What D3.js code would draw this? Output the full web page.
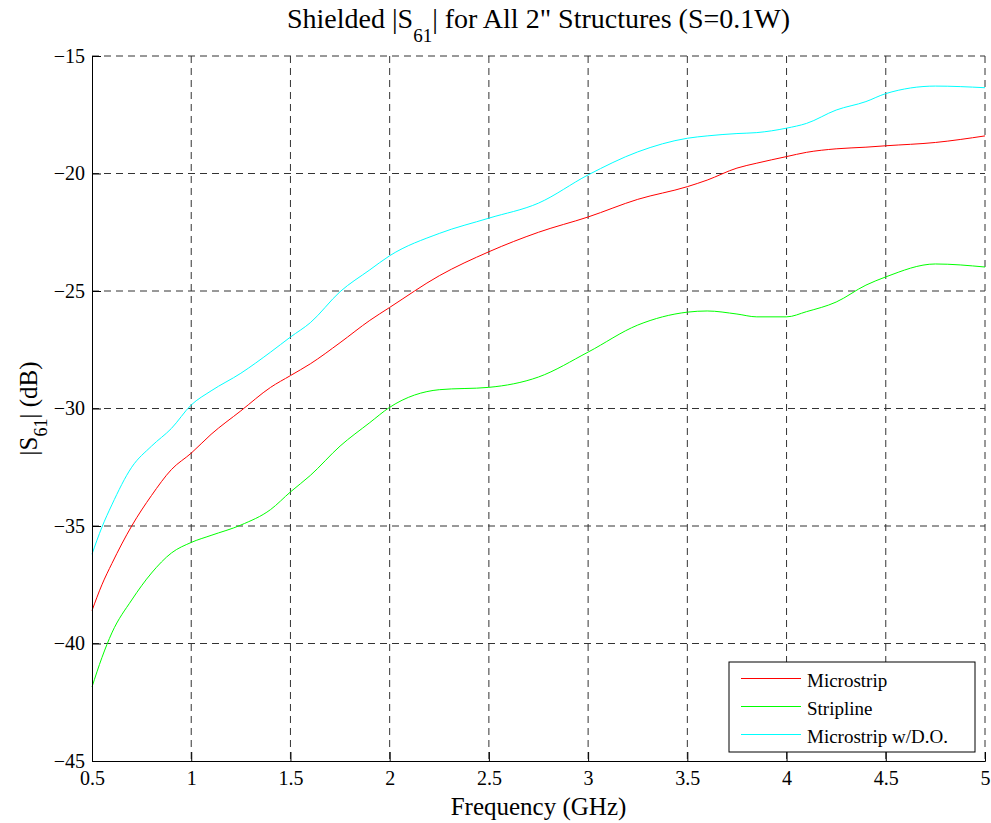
<!DOCTYPE html>
<html>
<head>
<meta charset="utf-8">
<script src="https://cdn.jsdelivr.net/npm/d3@7"></script>
<style>
  body { margin: 0; background: #fff; }
  text { font-family: "Liberation Serif", "Times New Roman", serif; fill: #000; }
</style>
</head>
<body>
<script>
// frequency points (GHz)
const freq = [0.5, 0.55, 0.6, 0.7, 0.8, 0.9, 1.0, 1.1, 1.25, 1.4, 1.5, 1.6, 1.75, 1.9, 2.0,
  2.25, 2.5, 2.75, 3.0, 3.25, 3.5, 3.6, 3.75, 3.85, 4.0, 4.1, 4.25, 4.4, 4.5, 4.75, 5.0];

const microstrip = [-38.6, -37.5, -36.6, -35.0, -33.7, -32.6, -31.9, -31.1, -30.1, -29.1, -28.6, -28.1, -27.2, -26.25, -25.7,
  -24.35, -23.33, -22.5, -21.85, -21.1, -20.56, -20.28, -19.77, -19.56, -19.28, -19.1, -18.95, -18.88, -18.82, -18.68, -18.4];

const stripline = [-41.85, -40.6, -39.55, -38.15, -37.0, -36.15, -35.7, -35.4, -34.96, -34.3, -33.55, -32.85, -31.6, -30.6, -29.95,
  -29.2, -29.1, -28.66, -27.6, -26.45, -25.9, -25.85, -25.98, -26.1, -26.1, -25.88, -25.47, -24.75, -24.4, -23.85, -23.98];

const microstripDO = [-36.2, -35.05, -34.1, -32.5, -31.6, -30.85, -29.85, -29.25, -28.5, -27.6, -26.96, -26.35, -25.03, -24.1, -23.5,
  -22.55, -21.9, -21.26, -20.06, -19.08, -18.5, -18.4, -18.3, -18.26, -18.07, -17.87, -17.3, -16.94, -16.6, -16.28, -16.35];

const xTicks = [0.5, 1, 1.5, 2, 2.5, 3, 3.5, 4, 4.5, 5];
const yTicks = [-45, -40, -35, -30, -25, -20, -15];

const seriesNames = ["Microstrip", "Stripline", "Microstrip w/D.O."];
const seriesColors = ["#ff0000", "#00ff00", "#00ffff"];
const seriesValues = [microstrip, stripline, microstripDO];

const W = 991, H = 823;
const margin = { top: 56, right: 6, bottom: 62, left: 92 };
const width = W - margin.left - margin.right;
const height = H - margin.top - margin.bottom;

const x = d3.scaleLinear().domain([0.5, 5]).range([0, width]);
const y = d3.scaleLinear().domain([-45, -15]).range([height, 0]);

const svg = d3.select("body").append("svg")
  .attr("width", W)
  .attr("height", H);

const g = svg.append("g")
  .attr("transform", "translate(" + margin.left + "," + margin.top + ")");

// dashed grid
g.selectAll(".vgrid")
  .data(xTicks.slice(1))
  .enter().append("line")
  .attr("x1", d => x(d)).attr("x2", d => x(d))
  .attr("y1", 0).attr("y2", height)
  .attr("stroke", "#333")
  .attr("stroke-dasharray", "7,5");

g.selectAll(".hgrid")
  .data(yTicks.slice(1))
  .enter().append("line")
  .attr("x1", 0).attr("x2", width)
  .attr("y1", d => y(d)).attr("y2", d => y(d))
  .attr("stroke", "#333")
  .attr("stroke-dasharray", "7,5");

// series
const line = d3.line()
  .x(d => x(d[0]))
  .y(d => y(d[1]))
  .curve(d3.curveMonotoneX);

seriesValues.forEach((vals, i) => {
  g.append("path")
    .datum(freq.map((f, j) => [f, vals[j]]))
    .attr("fill", "none")
    .attr("stroke", seriesColors[i])
    .attr("stroke-width", 1)
    .attr("d", line);
});

// axes (ticks pointing inward)
const xAxis = g.append("g")
  .attr("transform", "translate(0," + height + ")")
  .call(d3.axisBottom(x).tickValues(xTicks).tickSize(-9).tickFormat(d3.format("")));

const yAxis = g.append("g")
  .call(d3.axisLeft(y).tickValues(yTicks).tickSize(-9));

[xAxis, yAxis].forEach(a => {
  a.attr("font-family", "Liberation Serif").attr("font-size", 20);
  a.select(".domain").attr("stroke", "#000");
  a.selectAll(".tick line").attr("stroke", "#000");
  a.selectAll("text").attr("fill", "#000");
});
yAxis.selectAll("text").attr("x", -7).attr("dy", "0.32em");
xAxis.selectAll("text").attr("y", 24).attr("dy", null);

// title
const title = svg.append("text")
  .attr("x", margin.left + width / 2)
  .attr("y", 28)
  .attr("text-anchor", "middle")
  .style("font-size", "28px");
title.append("tspan").text("Shielded |S");
title.append("tspan").attr("dy", 14).style("font-size", "19px").text("61");
title.append("tspan").attr("dy", -14).text("| for All 2\" Structures (S=0.1W)");

// axis labels
svg.append("text")
  .attr("x", margin.left + width / 2)
  .attr("y", 815)
  .attr("text-anchor", "middle")
  .style("font-size", "25px")
  .text("Frequency (GHz)");

const ylab = svg.append("text")
  .attr("transform", "translate(37," + (margin.top + height / 2) + ") rotate(-90)")
  .attr("text-anchor", "middle")
  .style("font-size", "25px");
ylab.append("tspan").text("|S");
ylab.append("tspan").attr("dy", 10).style("font-size", "18px").text("61");
ylab.append("tspan").attr("dy", -10).text("| (dB)");

// legend
const legend = svg.append("g").attr("transform", "translate(729,662)");
legend.append("rect")
  .attr("width", 246)
  .attr("height", 90)
  .attr("fill", "#fff")
  .attr("stroke", "#000");

const items = legend.selectAll(".item")
  .data(seriesNames)
  .enter().append("g")
  .attr("transform", (d, i) => "translate(0," + (16.5 + i * 28) + ")");

items.append("line")
  .attr("x1", 12).attr("x2", 72)
  .attr("stroke", (d, i) => seriesColors[i]);

items.append("text")
  .attr("x", 78)
  .attr("y", 8)
  .style("font-size", "19px")
  .text(d => d);
</script>
</body>
</html>
